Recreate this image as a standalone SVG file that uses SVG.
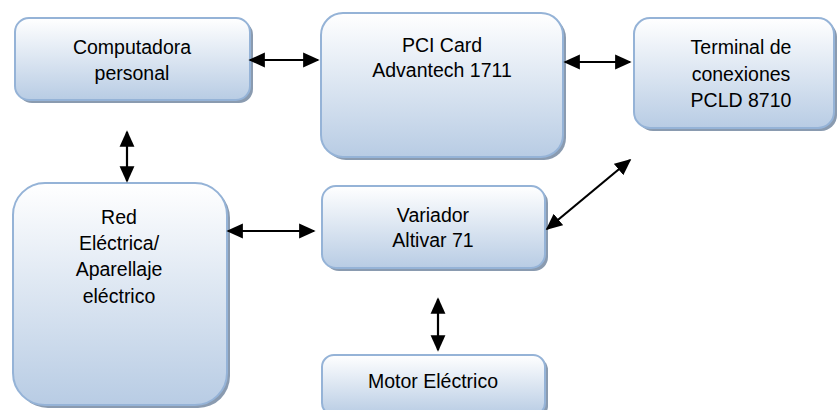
<svg xmlns="http://www.w3.org/2000/svg" width="837" height="410" viewBox="0 0 837 410">
<defs>
<linearGradient id="g" x1="0" y1="0" x2="0" y2="1">
<stop offset="0" stop-color="#ffffff"/>
<stop offset="1" stop-color="#b8cce4"/>
</linearGradient>
<marker id="ah" viewBox="0 0 10 10" refX="9" refY="5" markerWidth="7.5" markerHeight="7.5" orient="auto-start-reverse" markerUnits="strokeWidth">
<path d="M0,0.5 L10,5 L0,9.5 z" fill="#000"/>
</marker>
<style>
.box{fill:url(#g);stroke:#95b3d7;stroke-width:2}
.sh{fill:#8a9bb0}
.t{font-family:"Liberation Sans",Arial,sans-serif;font-size:19.5px;fill:#000;text-anchor:middle}
.c{stroke:#000;stroke-width:2.2;fill:none;marker-start:url(#ah);marker-end:url(#ah)}
</style>
</defs>
<g id="computadora">
<rect class="sh" x="18" y="21" width="235" height="82" rx="14"/>
<rect class="box" x="15" y="18" width="235" height="82" rx="14"/>
<text class="t" x="132" y="54">Computadora</text>
<text class="t" x="132" y="80">personal</text>
</g>
<g id="pci">
<rect class="sh" x="324" y="16" width="242" height="144" rx="22"/>
<rect class="box" x="321" y="13" width="242" height="144" rx="22"/>
<text class="t" x="442" y="52">PCI Card</text>
<text class="t" x="442" y="77">Advantech 1711</text>
</g>
<g id="terminal">
<rect class="sh" x="637" y="21" width="200" height="110" rx="16"/>
<rect class="box" x="634" y="18" width="200" height="110" rx="16"/>
<text class="t" x="741" y="54">Terminal de</text>
<text class="t" x="741" y="81">conexiones</text>
<text class="t" x="741" y="107">PCLD 8710</text>
</g>
<g id="red">
<rect class="sh" x="16" y="186" width="214" height="222" rx="32"/>
<rect class="box" x="13" y="183" width="214" height="222" rx="32"/>
<text class="t" x="119" y="224">Red</text>
<text class="t" x="119" y="250">Eléctrica/</text>
<text class="t" x="119" y="276">Aparellaje</text>
<text class="t" x="119" y="303">eléctrico</text>
</g>
<g id="variador">
<rect class="sh" x="325" y="189" width="223" height="82" rx="14"/>
<rect class="box" x="322" y="186" width="223" height="82" rx="14"/>
<text class="t" x="433" y="222">Variador</text>
<text class="t" x="433" y="247">Altivar 71</text>
</g>
<g id="motor">
<rect class="sh" x="325" y="358" width="223" height="60" rx="12"/>
<rect class="box" x="322" y="355" width="223" height="60" rx="12"/>
<text class="t" x="433" y="388">Motor Eléctrico</text>
</g>
<g id="connectors">
<line class="c" x1="250" y1="60" x2="318" y2="60"/>
<line class="c" x1="565" y1="62" x2="630" y2="62"/>
<line class="c" x1="127" y1="132" x2="127" y2="181"/>
<line class="c" x1="228" y1="231" x2="314" y2="231"/>
<line class="c" x1="630" y1="160" x2="547" y2="229"/>
<line class="c" x1="438" y1="299" x2="438" y2="350"/>
</g>
</svg>
